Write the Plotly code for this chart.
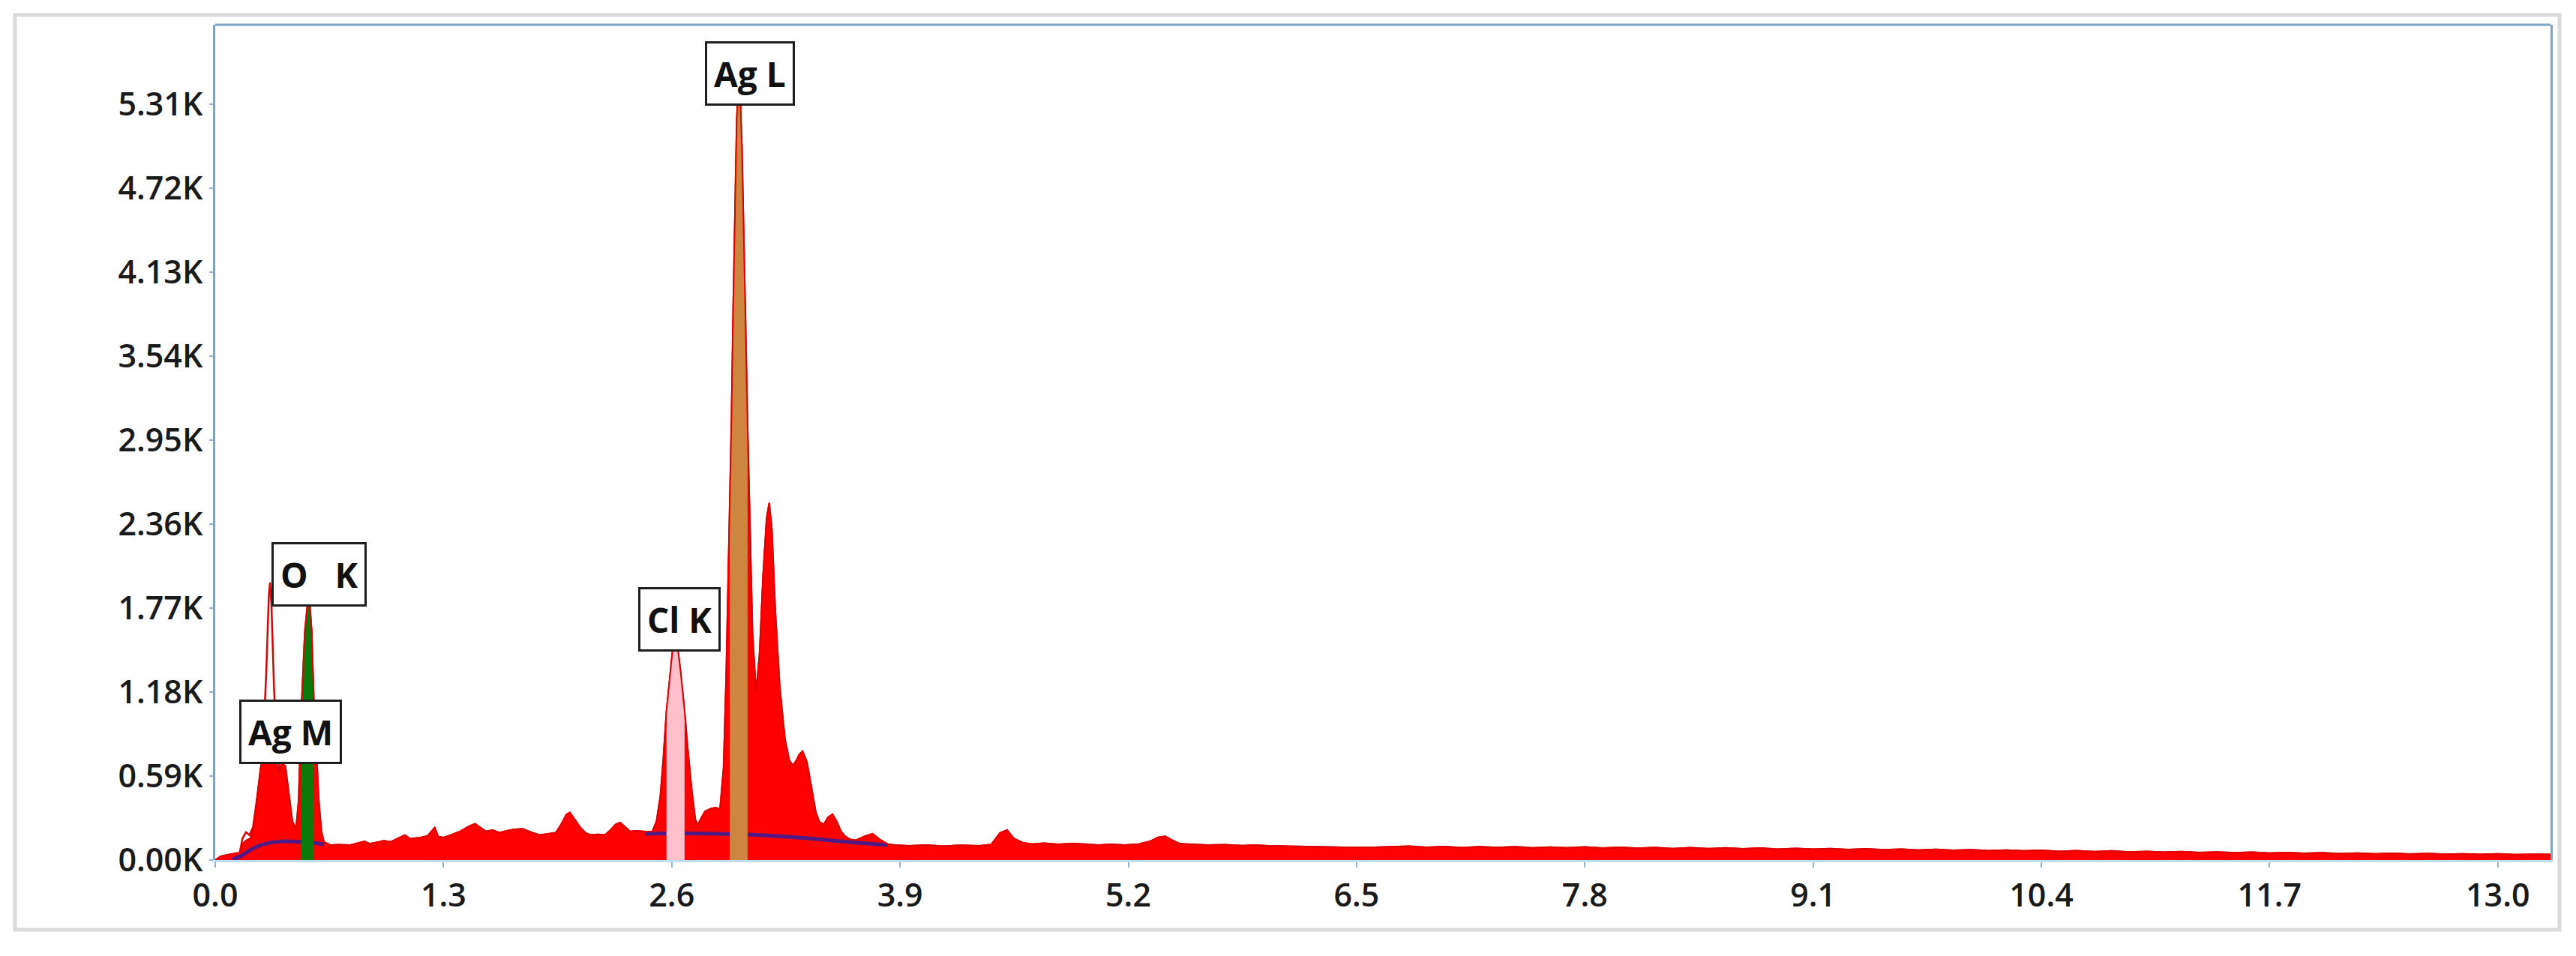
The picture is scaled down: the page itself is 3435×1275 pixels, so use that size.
import plotly.graph_objects as go

# ---------------- data ----------------
energy_keV = [
    0.00, 0.03, 0.06, 0.10, 0.14, 0.16, 0.18, 0.20, 0.22, 0.24, 0.26, 0.28, 0.30, 0.32, 0.34, 0.36,
    0.38, 0.40, 0.42, 0.44, 0.46, 0.475, 0.49, 0.51, 0.533, 0.55, 0.561, 0.575, 0.59, 0.605, 0.62,
    0.66, 0.70, 0.77, 0.81, 0.85, 0.88, 0.91, 0.96, 1.00, 1.05, 1.08, 1.11, 1.17, 1.21, 1.25, 1.27,
    1.30, 1.35, 1.40, 1.42, 1.45, 1.48, 1.51, 1.54, 1.58, 1.62, 1.66, 1.70, 1.75, 1.80, 1.85, 1.90,
    1.94, 1.97, 2.00, 2.02, 2.05, 2.08, 2.11, 2.14, 2.18, 2.22, 2.25, 2.28, 2.306, 2.33, 2.363, 2.40,
    2.45, 2.49, 2.513, 2.535, 2.55, 2.57, 2.59, 2.605, 2.62, 2.635, 2.65, 2.673, 2.69, 2.715, 2.735,
    2.75, 2.77, 2.79, 2.82, 2.847, 2.875, 2.895, 2.91, 2.93, 2.94, 2.95, 2.96, 2.97, 2.98, 2.99, 3.00,
    3.01, 3.02, 3.032, 3.045, 3.06, 3.08, 3.10, 3.12, 3.14, 3.155, 3.17, 3.19, 3.215, 3.245, 3.27,
    3.29, 3.31, 3.325, 3.345, 3.37, 3.395, 3.42, 3.44, 3.466, 3.49, 3.516, 3.54, 3.565, 3.587, 3.616,
    3.65, 3.70, 3.744, 3.79, 3.83, 3.87, 3.95, 4.05, 4.15, 4.25, 4.35, 4.42, 4.469, 4.51, 4.55, 4.598,
    4.65, 4.72, 4.80, 4.88, 4.95, 5.03, 5.10, 5.18, 5.26, 5.325, 5.37, 5.41, 5.45, 5.495, 5.56, 5.65,
    5.75, 5.85, 5.92, 6.00, 6.10, 6.20, 6.30, 6.40, 6.49, 6.60, 6.70, 6.8, 6.9, 7.0, 7.1, 7.2, 7.3,
    7.4, 7.5, 7.6, 7.7, 7.8, 7.9, 8.0, 8.1, 8.2, 8.3, 8.4, 8.5, 8.6, 8.7, 8.8, 8.9, 9.0, 9.1, 9.2,
    9.3, 9.4, 9.5, 9.6, 9.7, 9.8, 9.9, 10.0, 10.1, 10.2, 10.3, 10.4, 10.5, 10.6, 10.7, 10.8, 10.9,
    11.0, 11.1, 11.2, 11.3, 11.4, 11.5, 11.6, 11.7, 11.8, 11.9, 12.0, 12.1, 12.2, 12.3, 12.4, 12.5,
    12.6, 12.7, 12.8, 12.9, 13.0, 13.1, 13.2, 13.3,
]
counts = [
    0, 25, 35, 45, 53, 120, 140, 150, 240, 450, 650, 850, 960, 900, 720, 620,
    680, 660, 460, 270, 220, 420, 1050, 1600, 1900, 1600, 1150, 800, 420, 200, 125,
    105, 108, 105, 118, 132, 115, 123, 135, 128, 158, 176, 150, 158, 170, 228, 165,
    158, 180, 205, 220, 240, 255, 230, 202, 210, 193, 205, 215, 220, 195, 176, 185,
    193, 250, 320, 334, 280, 228, 190, 176, 180, 176, 210, 250, 264, 240, 202, 205,
    200, 202, 272, 450, 680, 1050, 1320, 1480, 1560, 1480, 1330, 1050, 800, 480, 280,
    250, 300, 343, 360, 369, 360, 650, 1300, 2400, 3100, 3900, 4650, 5200, 5470, 5370, 5000,
    4450, 3800, 3050, 2300, 1600, 1180, 1450, 2000, 2400, 2510, 2330, 1750, 1220, 850, 700,
    665, 700, 740, 765, 690, 510, 340, 270, 250, 300, 322, 270, 200, 168, 145,
    140, 168, 185, 140, 112, 105, 100, 106, 98, 104, 100, 110, 190, 211, 150, 123,
    112, 118, 110, 116, 112, 106, 110, 105, 112, 132, 160, 167, 140, 114, 110, 106,
    108, 102, 105, 100, 98, 96, 94, 92, 88, 90, 92, 97, 89, 95, 87, 93, 88,
    94, 86, 91, 85, 92, 84, 89, 83, 88, 81, 87, 80, 85, 79, 84, 77, 82, 76, 80,
    74, 79, 72, 77, 70, 75, 68, 73, 66, 70, 64, 68, 61, 66, 59, 64, 57,
    61, 55, 59, 53, 57, 51, 55, 49, 53, 47, 51, 45, 49, 44, 47, 42,
    46, 41, 44, 40, 43, 38, 41, 39,
]

# second (outline) trace that rises above the fill at the Ag M line
agm_line_keV = [0.14, 0.155, 0.175, 0.195, 0.215, 0.24, 0.27, 0.29, 0.305, 0.312, 0.32, 0.335, 0.35, 0.365]
agm_line_counts = [53, 150, 195, 175, 230, 450, 760, 1300, 1850, 1950, 1800, 1200, 800, 640]

# background (continuum) fit, drawn in two visible segments
bkg_low_keV = [0.10, 0.15, 0.20, 0.25, 0.30, 0.35, 0.40, 0.45, 0.50, 0.55, 0.60, 0.62]
bkg_low_counts = [5, 30, 70, 100, 118, 128, 132, 130, 127, 123, 115, 110]
bkg_high_keV = [2.45, 2.60, 2.80, 3.00, 3.20, 3.40, 3.56, 3.70, 3.83]
bkg_high_counts = [185, 187, 186, 180, 168, 150, 132, 117, 105]

# element line windows (ROI)
roi_names = ["O K", "Cl K", "Ag L"]
roi_low = [0.49, 2.57, 2.93]
roi_high = [0.561, 2.673, 3.032]
roi_colors = ["#0B7A0B", "#FFC0CB", "#CD853F"]

# peak labels
label_text = ["Ag\u00a0M", "O\u00a0\u00a0\u00a0K", "Cl\u00a0K", "Ag\u00a0L"]
label_keV = [0.431, 0.590, 2.645, 3.045]
label_counts = [900, 2010, 1690, 5525]

# axis ticks
x_tickvals = [0.0, 1.3, 2.6, 3.9, 5.2, 6.5, 7.8, 9.1, 10.4, 11.7, 13.0]
x_ticktext = ["0.0", "1.3", "2.6", "3.9", "5.2", "6.5", "7.8", "9.1", "10.4", "11.7", "13.0"]
y_tickvals = [0, 590, 1180, 1770, 2360, 2950, 3540, 4130, 4720, 5310]
y_ticktext = ["0.00K", "0.59K", "1.18K", "1.77K", "2.36K", "2.95K", "3.54K", "4.13K", "4.72K", "5.31K"]

# ---------------- figure ----------------
W, H = 3435, 1275
ML, MR, MT, MB = 287, 34, 33, 128
PW, PH = W - ML - MR, H - MT - MB

RED = "#FF0000"
LINE_RED = "#E10000"

fig = go.Figure()

# main filled spectrum
fig.add_trace(go.Scatter(x=energy_keV, y=counts, mode="lines", fill="tozeroy",
                         fillcolor=RED, line=dict(color=LINE_RED, width=2),
                         hoverinfo="skip"))

# background fit segments
for bx, by in ((bkg_low_keV, bkg_low_counts), (bkg_high_keV, bkg_high_counts)):
    fig.add_trace(go.Scatter(x=bx, y=by, mode="lines",
                             line=dict(color="#4E1A86", width=5, shape="spline"),
                             hoverinfo="skip"))

# ROI fills (portion of spectrum inside each element window)
for lo, hi, col in zip(roi_low, roi_high, roi_colors):
    sx = [e for e in energy_keV if lo <= e <= hi]
    sy = [c for e, c in zip(energy_keV, counts) if lo <= e <= hi]
    fig.add_trace(go.Scatter(x=sx, y=sy, mode="lines", fill="tozeroy",
                             fillcolor=col, line=dict(width=0, color=col),
                             hoverinfo="skip"))

# spectrum outline on top
fig.add_trace(go.Scatter(x=energy_keV, y=counts, mode="lines",
                         line=dict(color=LINE_RED, width=2), hoverinfo="skip"))
fig.add_trace(go.Scatter(x=agm_line_keV, y=agm_line_counts, mode="lines",
                         line=dict(color=LINE_RED, width=2.5), hoverinfo="skip"))

# labels
for t, lx, ly in zip(label_text, label_keV, label_counts):
    fig.add_annotation(x=lx, y=ly, text=t, showarrow=False, xanchor="center", yanchor="middle",
                       font=dict(family="Open Sans", size=46, color="#111111", weight=700),
                       bgcolor="white", bordercolor="#1E1E1E", borderwidth=3, borderpad=9)

tickfont = dict(family="Open Sans", size=43, color="#1A1A1A", weight=600)

fig.update_xaxes(range=[0, 13.3], tickvals=x_tickvals, ticktext=x_ticktext,
                 showgrid=False, zeroline=False, showline=True, linecolor="#BFDDF0", linewidth=3,
                 ticks="outside", ticklen=7, tickwidth=2, tickcolor="#8FB3D0",
                 tickfont=tickfont, fixedrange=True)
fig.update_yaxes(range=[0, 5870], tickvals=y_tickvals, ticktext=y_ticktext,
                 showgrid=False, zeroline=False, showline=True, linecolor="#7FA3C3", linewidth=3,
                 mirror=True, ticks="outside", ticklen=5, tickwidth=2, tickcolor="#8FB3D0",
                 tickfont=tickfont, fixedrange=True)

# top frame line of the plot area
fig.add_shape(type="line", xref="paper", yref="paper", x0=0, x1=1, y0=1, y1=1,
              line=dict(color="#7FA3C3", width=3))
# outer light grey frame
fig.add_shape(type="rect", xref="paper", yref="paper",
              x0=(20 - ML) / PW, x1=(3413 - ML) / PW,
              y0=(H - MB - 1240) / PH, y1=(H - MB - 20) / PH,
              line=dict(color="#DADADA", width=5), fillcolor="rgba(0,0,0,0)", layer="below")

fig.update_layout(width=W, height=H, margin=dict(l=ML, r=MR, t=MT, b=MB, pad=0),
                  paper_bgcolor="white", plot_bgcolor="white", showlegend=False,
                  hovermode=False)

fig.write_html("out.html", config={"displayModeBar": False},
               post_script="document.body.style.margin='0';document.body.style.overflow='hidden';")
